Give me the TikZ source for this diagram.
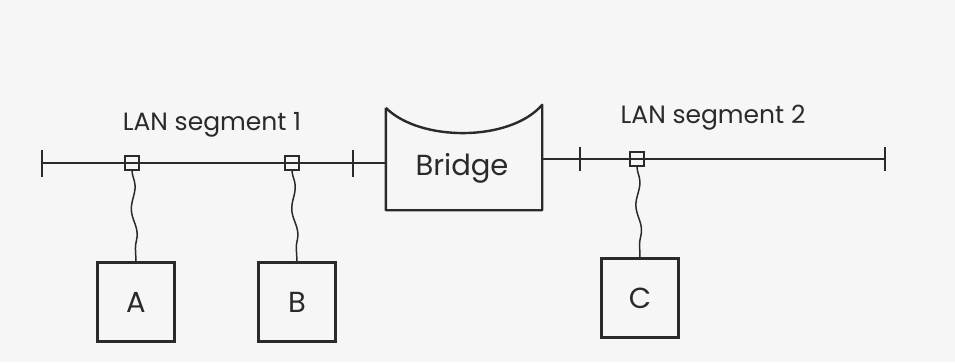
\documentclass[tikz,border=0pt]{standalone}
\usepackage{fontspec}
\setmainfont{Poppins}
\usetikzlibrary{decorations.pathmorphing,calc}
\definecolor{ink}{HTML}{2A2A2A}
\definecolor{paper}{HTML}{F6F6F6}
\tikzset{
  wire/.style={draw=ink, line width=1.9pt},
  tap/.style={draw=ink, line width=1.6pt, minimum size=14pt, inner sep=0pt},
  station/.style={draw=ink, line width=2.4pt, minimum width=77pt, minimum height=79pt, inner sep=0pt, font=\fontsize{29}{32}\selectfont, text=ink},
  seglabel/.style={font=\fontsize{25}{28}\selectfont, text=ink},
  drop/.style={draw=ink, line width=1.5pt, decorate, decoration={snake, amplitude=2.4pt, segment length=48pt}},
}
\begin{document}
\begin{tikzpicture}[x=1pt,y=-1pt]
\useasboundingbox[fill=paper] (0,0) rectangle (955,362);
% coordinates of bus ends and ticks
\coordinate (L0) at (42,163);
\coordinate (L1) at (353,163);
\coordinate (R1) at (580,159);
\coordinate (R0) at (885,159);
% bridge
\node[minimum width=156pt, minimum height=105pt, inner sep=0pt] (bridgebox) at (464,157.5) {};
\draw[wire, line width=2.4pt, line join=round] (bridgebox.north west) ++(0,3) coordinate (btl)
  -- (bridgebox.south west) -- (bridgebox.south east) -- (bridgebox.north east)
  .. controls (510,142) and (420,142) .. (btl);
\node[font=\fontsize{29}{32}\selectfont, text=ink] (bridge) at (462,168) {Bridge};
% buses
\draw[wire] (L0) -- (L0 -| bridgebox.west);
\draw[wire] (R0 -| bridgebox.east) -- (R0);
% ticks
\foreach \c in {L0,L1} { \draw[wire] ($(\c)+(0,-13)$) -- ($(\c)+(0,14)$); }
\foreach \c in {R1,R0} { \draw[wire] ($(\c)+(0,-12)$) -- ($(\c)+(0,12)$); }
% taps
\node[tap] (tA) at (132,163) {};
\node[tap] (tB) at (292,163) {};
\node[tap] (tC) at (637,159) {};
% stations
\node[station] (A) at (136,302) {A};
\node[station] (B) at (297,302) {B};
\node[station] (C) at (640,298) {C};
% drops
\draw[drop] (tA.south) -- (A.north);
\draw[drop] (tB.south) -- (B.north);
\draw[drop] (tC.south) -- (C.north);
% labels
\node[seglabel] (lab1) at (212,125) {LAN segment 1};
\node[seglabel] (lab2) at (713,118) {LAN segment 2};
\end{tikzpicture}
\end{document}
